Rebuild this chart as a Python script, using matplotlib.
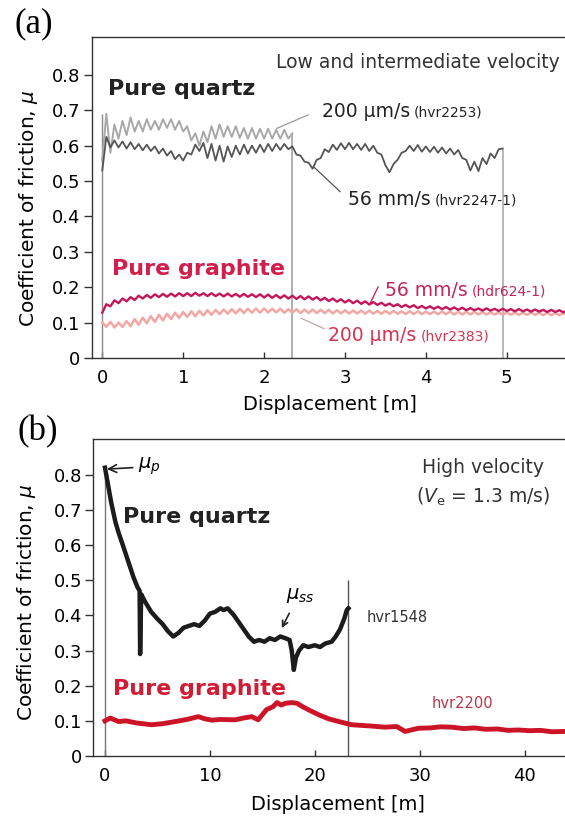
import numpy as np
import matplotlib
matplotlib.use("Agg")
import matplotlib.pyplot as plt

# (a) low / intermediate velocity runs, friction sampled every 5 cm from x = 0
step_a = 0.05
quartz_slow = [0.56, 0.69, 0.58, 0.66, 0.62, 0.67, 0.63, 0.68, 0.64, 0.67,
               0.64, 0.675, 0.645, 0.67, 0.645, 0.675, 0.65, 0.675, 0.645, 0.67,
               0.64, 0.655, 0.615, 0.635, 0.60, 0.64, 0.61, 0.655, 0.62, 0.66,
               0.625, 0.655, 0.625, 0.655, 0.622, 0.65, 0.62, 0.65, 0.62, 0.648,
               0.62, 0.648, 0.62, 0.645, 0.62, 0.645, 0.62, 0.635]          # 200 um/s, hvr2253
quartz_fast = [0.53, 0.625, 0.595, 0.615, 0.595, 0.612, 0.592, 0.610, 0.590, 0.605,
               0.587, 0.603, 0.585, 0.598, 0.578, 0.592, 0.572, 0.585, 0.562, 0.575,
               0.558, 0.580, 0.575, 0.603, 0.585, 0.608, 0.565, 0.605, 0.558, 0.600,
               0.555, 0.598, 0.568, 0.600, 0.575, 0.603, 0.578, 0.600, 0.580, 0.603,
               0.582, 0.605, 0.585, 0.605, 0.588, 0.605, 0.590, 0.598, 0.575, 0.572,
               0.555, 0.552, 0.535, 0.560, 0.565, 0.590, 0.582, 0.603, 0.588, 0.607,
               0.590, 0.608, 0.590, 0.605, 0.588, 0.605, 0.585, 0.600, 0.580, 0.575,
               0.545, 0.525, 0.548, 0.560, 0.580, 0.585, 0.600, 0.585, 0.602, 0.583,
               0.598, 0.582, 0.597, 0.580, 0.595, 0.578, 0.592, 0.575, 0.588, 0.565,
               0.560, 0.530, 0.555, 0.528, 0.565, 0.548, 0.578, 0.565, 0.590, 0.592]  # 56 mm/s, hvr2247-1
graphite_fast = [0.128, 0.152, 0.146, 0.163, 0.155, 0.168, 0.160, 0.172, 0.164, 0.176,
                 0.168, 0.178, 0.170, 0.180, 0.172, 0.181, 0.173, 0.182, 0.174, 0.183,
                 0.175, 0.183, 0.175, 0.184, 0.176, 0.183, 0.175, 0.183, 0.175, 0.182,
                 0.174, 0.182, 0.174, 0.181, 0.173, 0.181, 0.173, 0.180, 0.172, 0.180,
                 0.171, 0.179, 0.170, 0.178, 0.169, 0.177, 0.168, 0.176, 0.167, 0.175,
                 0.166, 0.174, 0.165, 0.172, 0.163, 0.170, 0.161, 0.168, 0.159, 0.166,
                 0.157, 0.164, 0.155, 0.162, 0.153, 0.160, 0.151, 0.158, 0.150, 0.156,
                 0.148, 0.154, 0.146, 0.152, 0.144, 0.150, 0.143, 0.149, 0.141, 0.147,
                 0.140, 0.146, 0.139, 0.145, 0.138, 0.144, 0.137, 0.143, 0.136, 0.142,
                 0.135, 0.141, 0.135, 0.140, 0.134, 0.140, 0.134, 0.139, 0.133, 0.139,
                 0.133, 0.138, 0.132, 0.138, 0.132, 0.137, 0.131, 0.137, 0.131, 0.136,
                 0.130, 0.136, 0.130, 0.135, 0.129, 0.135]                       # 56 mm/s, hdr624-1
graphite_slow = [0.100, 0.088, 0.102, 0.086, 0.100, 0.088, 0.104, 0.090, 0.110, 0.094,
                 0.114, 0.098, 0.118, 0.102, 0.122, 0.106, 0.125, 0.110, 0.128, 0.113,
                 0.130, 0.116, 0.132, 0.118, 0.133, 0.120, 0.135, 0.122, 0.136, 0.124,
                 0.137, 0.125, 0.138, 0.126, 0.139, 0.127, 0.139, 0.128, 0.140, 0.128,
                 0.140, 0.129, 0.139, 0.129, 0.139, 0.128, 0.138, 0.128, 0.138, 0.127,
                 0.137, 0.127, 0.137, 0.127, 0.136, 0.127, 0.136, 0.126, 0.135, 0.126,
                 0.135, 0.126, 0.134, 0.126, 0.134, 0.125, 0.134, 0.125, 0.133, 0.125,
                 0.133, 0.125, 0.133, 0.125, 0.132, 0.124, 0.132, 0.124, 0.132, 0.124,
                 0.131, 0.124, 0.131, 0.124, 0.131, 0.124, 0.131, 0.123, 0.130, 0.123,
                 0.130, 0.123, 0.130, 0.123, 0.130, 0.123, 0.129, 0.123, 0.129, 0.122,
                 0.129, 0.122, 0.129, 0.122, 0.128, 0.122, 0.128, 0.122, 0.128, 0.121,
                 0.128, 0.121, 0.127, 0.121, 0.127, 0.121]                       # 200 um/s, hvr2383

# (b) high velocity runs (Ve = 1.3 m/s)
quartz_hv_x = [0.0, 0.3, 0.6, 1.0, 1.3, 1.7, 2.2, 2.7, 3.1, 3.3, 3.35, 3.45, 3.8, 4.4,
               5.0, 5.5, 6.0, 6.5, 7.0, 7.5, 8.0, 8.5, 9.0, 9.5, 10.0, 10.5, 11.0,
               11.3, 11.7, 12.3, 13.0, 13.7, 14.2, 14.7, 15.2, 15.7, 16.2, 16.7, 17.2,
               17.6, 17.8, 18.0, 18.2, 18.5, 18.9, 19.4, 20.0, 20.5, 21.0, 21.6, 22.0,
               22.4, 22.8, 23.05, 23.2]
quartz_hv_mu = [0.82, 0.77, 0.72, 0.665, 0.635, 0.60, 0.555, 0.51, 0.48, 0.47, 0.29,
                0.46, 0.44, 0.41, 0.39, 0.375, 0.355, 0.34, 0.35, 0.365, 0.37, 0.375,
                0.37, 0.385, 0.405, 0.41, 0.42, 0.415, 0.42, 0.40, 0.37, 0.34, 0.325,
                0.33, 0.325, 0.335, 0.33, 0.34, 0.335, 0.33, 0.30, 0.245, 0.28, 0.30,
                0.315, 0.31, 0.315, 0.31, 0.32, 0.325, 0.34, 0.36, 0.39, 0.415, 0.42]
quartz_hv_marker = 0.5   # height of the end-of-run line for hvr1548
graphite_hv_x = [0.0, 0.5, 1.3, 2.0, 3.0, 4.45, 5.5, 6.7, 7.8, 8.9, 9.5, 10.2, 11.0,
                 12.4, 13.2, 14.0, 14.6, 15.4, 16.0, 16.4, 16.8, 17.2, 17.8, 18.3, 18.8,
                 19.5, 20.4, 21.3, 22.3, 23.5, 24.5, 25.5, 26.7, 27.8, 28.6, 29.9, 31.0,
                 32.0, 33.1, 34.2, 35.2, 36.3, 37.4, 38.4, 39.4, 40.5, 41.5, 42.6, 43.9]
graphite_hv_mu = [0.10, 0.108, 0.098, 0.10, 0.094, 0.089, 0.092, 0.098, 0.104, 0.112,
                  0.106, 0.102, 0.104, 0.103, 0.108, 0.112, 0.103, 0.132, 0.14, 0.152,
                  0.145, 0.15, 0.152, 0.15, 0.141, 0.13, 0.117, 0.106, 0.098, 0.089,
                  0.087, 0.085, 0.082, 0.084, 0.07, 0.079, 0.08, 0.083, 0.082, 0.078,
                  0.08, 0.076, 0.077, 0.073, 0.074, 0.072, 0.073, 0.069, 0.07]

yticks = [0, 0.1, 0.2, 0.3, 0.4, 0.5, 0.6, 0.7, 0.8]
ytick_labels = ["0", "0.1", "0.2", "0.3", "0.4", "0.5", "0.6", "0.7", "0.8"]


def dist(values):
    return np.arange(len(values)) * step_a


def style_axes(ax):
    ax.spines["right"].set_visible(False)
    for s in ("left", "bottom", "top"):
        ax.spines[s].set_linewidth(1.0)
        ax.spines[s].set_color("#333333")
    ax.tick_params(axis="y", direction="out", length=6, width=1, pad=2,
                   labelsize=13, color="#333333")
    ax.tick_params(axis="x", direction="in", length=4, width=1, pad=8,
                   labelsize=13, color="#333333")
    ax.set_yticks(yticks)
    ax.set_yticklabels(ytick_labels)


def two_size_label(ax, x, y, big, small, color):
    t = ax.text(x, y, big, fontsize=13.5, color=color, va="baseline", ha="left")
    ax.annotate(small, xy=(1, 0), xycoords=t, xytext=(3, 3.1),
                textcoords="offset points", fontsize=10, color=color,
                va="baseline", ha="left")


fig = plt.figure(figsize=(5.65, 8.16), dpi=100)

# ---------------- panel (a) ----------------
ax = fig.add_axes([0.1623, 0.5613, 0.8377, 0.3937])
x_qs, x_qf = dist(quartz_slow), dist(quartz_fast)
x_gf, x_gs = dist(graphite_fast), dist(graphite_slow)

ax.vlines(0, 0, max(quartz_slow), color="#8a8a8a", lw=1.0)
ax.vlines(x_qs[-1], 0, quartz_slow[-1], color="#9a9a9a", lw=1.1)
ax.vlines(x_qf[-1], 0, quartz_fast[-1], color="#a5a5a5", lw=1.1)

ax.plot(x_qs, quartz_slow, color="#a8a8a8", lw=1.4)
ax.plot(x_qf, quartz_fast, color="#555555", lw=1.3)
ax.plot(x_gs, graphite_slow, color="#f2a7a4", lw=1.8)
ax.plot(x_gf, graphite_fast, color="#c3175a", lw=1.7)

ax.set_xlim(-0.131, 5.72)
ax.set_ylim(0, 0.908)
ax.set_xticks([0, 1, 2, 3, 4, 5])
style_axes(ax)
ax.set_ylabel("Coefficient of friction, $\\mu$", fontsize=14.5)
ax.yaxis.set_label_coords(-0.109, 0.466)
ax.set_xlabel("Displacement [m]", fontsize=14)
ax.xaxis.set_label_coords(0.503, -0.115)

ax.text(5.66, 0.82, "Low and intermediate velocity", fontsize=13.5,
        color="#333333", ha="right", va="baseline")
ax.text(0.07, 0.744, "Pure quartz", fontsize=16, fontweight="bold",
        color="#222222", va="baseline")
ax.text(0.12, 0.235, "Pure graphite", fontsize=16, fontweight="bold",
        color="#d01f4c", va="baseline")

ax.plot([2.157, 2.545], [0.649, 0.687], color="#9a9a9a", lw=0.9)
two_size_label(ax, 2.71, 0.682, "200 μm/s", "(hvr2253)", "#222222")
ax.plot([2.61, 2.94], [0.541, 0.47], color="#555555", lw=0.9)
two_size_label(ax, 3.04, 0.4325, "56 mm/s", "(hvr2247-1)", "#222222")
ax.plot([3.31, 3.41], [0.154, 0.201], color="#c3175a", lw=0.9)
two_size_label(ax, 3.49, 0.176, "56 mm/s", "(hdr624-1)", "#c4245a")
ax.plot([2.46, 2.74], [0.112, 0.083], color="#c9a3a3", lw=0.9)
two_size_label(ax, 2.79, 0.049, "200 μm/s", "(hvr2383)", "#d8324f")

fig.text(0.025, 0.961, "(a)", fontsize=25, family="Liberation Serif",
         va="baseline", ha="left")

# ---------------- panel (b) ----------------
ax = fig.add_axes([0.1651, 0.0735, 0.8349, 0.3885])
ax.vlines(0, 0, quartz_hv_mu[0], color="#777777", lw=1.0)
ax.vlines(quartz_hv_x[-1], 0, quartz_hv_marker, color="#555555", lw=1.0)

ax.plot(graphite_hv_x, graphite_hv_mu, color="#cc1428", lw=3.5,
        solid_joinstyle="round")
ax.plot(quartz_hv_x, quartz_hv_mu, color="#1c1c1c", lw=3.2,
        solid_joinstyle="round")

ax.set_xlim(-1.115, 43.85)
ax.set_ylim(0, 0.9016)
ax.set_xticks([0, 10, 20, 30, 40])
style_axes(ax)
ax.set_ylabel("Coefficient of friction, $\\mu$", fontsize=14.5)
ax.yaxis.set_label_coords(-0.117, 0.484)
ax.set_xlabel("Displacement [m]", fontsize=14)
ax.xaxis.set_label_coords(0.518, -0.123)

ax.text(36.0, 0.806, "High velocity", fontsize=13.5, color="#333333",
        ha="center", va="baseline")
ax.text(36.0, 0.72, "($V_\\mathrm{e}$ = 1.3 m/s)", fontsize=13.5,
        color="#333333", ha="center", va="baseline")
ax.text(1.75, 0.662, "Pure quartz", fontsize=16, fontweight="bold",
        color="#222222", va="baseline")
ax.text(0.79, 0.174, "Pure graphite", fontsize=16, fontweight="bold",
        color="#d01c34", va="baseline")
ax.text(24.95, 0.382, "hvr1548", fontsize=10.5, color="#333333", va="baseline")
ax.text(31.1, 0.136, "hvr2200", fontsize=10.5, color="#b8364e", va="baseline")

ax.annotate("$\\mu_p$", xy=(0.19, 0.816), xytext=(3.18, 0.816),
            fontsize=14, va="baseline", ha="left",
            arrowprops=dict(arrowstyle="->", color="#222222", lw=1.2,
                            shrinkA=2, shrinkB=0))
ax.annotate("", xy=(16.85, 0.364), xytext=(17.57, 0.406),
            arrowprops=dict(arrowstyle="->", color="#222222", lw=1.2,
                            shrinkA=0, shrinkB=0))
ax.text(17.3, 0.446, "$\\mu_{ss}$", fontsize=14, va="baseline", ha="left")

fig.text(0.031, 0.46, "(b)", fontsize=25, family="Liberation Serif",
         va="baseline", ha="left")

fig.savefig("out.png", dpi=100)
